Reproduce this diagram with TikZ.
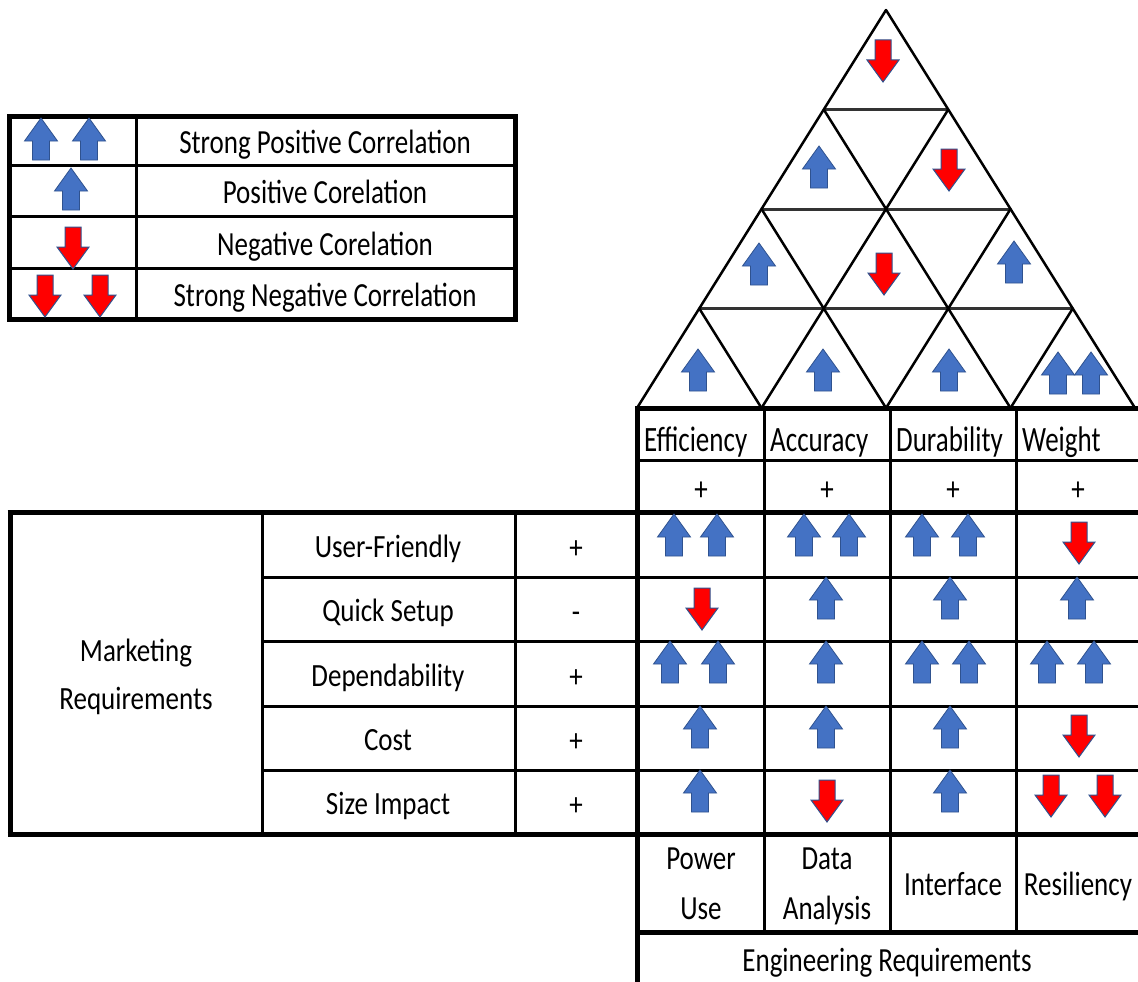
\documentclass[tikz,border=0pt]{standalone}
\usepackage{graphicx}
\usepackage{fontspec}
\setmainfont{Carlito}
\definecolor{arrblue}{HTML}{4472C4}
\definecolor{arredge}{HTML}{2F528F}
\definecolor{arrred}{HTML}{FF0000}
\newcommand\vsa[1]{\scalebox{1}[1.25]{#1}}
\newcommand\vsb[1]{\scalebox{1}[1.2]{#1}}
\newcommand\vsh[1]{\scalebox{1}[1.32]{#1}}
\tikzset{
  upar/.pic={\filldraw[fill=arrblue,draw=arredge,line width=0.8pt,line join=miter]
     (0,-21) -- (16.5,2) -- (8.5,2) -- (8.5,21) -- (-8.5,21) -- (-8.5,2) -- (-16.5,2) -- cycle;},
  dnar/.pic={\filldraw[fill=arrred,draw=arredge,line width=1pt,line join=miter]
     (0,21) -- (16,-1) -- (8,-1) -- (8,-21) -- (-8,-21) -- (-8,-1) -- (-16,-1) -- cycle;},
  txt/.style={font=\fontsize{27}{33}\selectfont, inner sep=0pt, anchor=base},
  hdr/.style={font=\fontsize{27}{33}\selectfont, inner sep=0pt, anchor=base west},
  thickln/.style={line width=5pt},
  thinln/.style={line width=3pt},
  roofln/.style={line width=2.5pt, line cap=round},
  roofh/.style={line width=3pt, black!80},
}
\begin{document}
\begin{tikzpicture}[x=1pt,y=-1pt]
\useasboundingbox (0,0) rectangle (1138,982);
\fill[white] (0,0) rectangle (1138,982);

% ---------------- Legend ----------------
\draw[thinln] (9,165) -- (515,165) (9,216) -- (515,216) (9,268) -- (515,268);
\draw[thinln] (136,116) -- (136,319);
\draw[thickln] (9,116) rectangle (515,319);
\node[txt] (lg1) at (325,153) {\vsa{Strong Positive Correlation}};
\node[txt] (lg2) at (325,203) {\vsa{Positive Corelation}};
\node[txt] (lg3) at (325,255) {\vsa{Negative Corelation}};
\node[txt] (lg4) at (325,306) {\vsa{Strong Negative Correlation}};
\pic at (41,139) {upar}; \pic at (89,139) {upar};
\pic at (71,189) {upar};
\pic at (73,248) {dnar};
\pic at (45,296) {dnar}; \pic at (100,296) {dnar};

% ---------------- Roof ----------------
\coordinate (A) at (886,10);
\coordinate (L1) at (823.75,109.5); \coordinate (R1) at (948.25,109.5);
\coordinate (L2) at (761.5,209);    \coordinate (R2) at (1010.5,209);
\coordinate (L3) at (699.25,308.5); \coordinate (R3) at (1072.75,308.5);
\coordinate (B0) at (637,408); \coordinate (B1) at (761.5,408);
\coordinate (B2) at (886,408); \coordinate (B3) at (1010.5,408);
\coordinate (B4) at (1135,408);
\draw[roofh] (L1) -- (R1) (L2) -- (R2) (L3) -- (R3);
\draw[roofln] (A) -- (B0) (R1) -- (B1) (R2) -- (B2) (R3) -- (B3);
\draw[roofln] (A) -- (B4) (L1) -- (B3) (L2) -- (B2) (L3) -- (B1);
\pic at (883,61) {dnar};
\pic at (819,167) {upar}; \pic at (949,170) {dnar};
\pic at (759,264) {upar}; \pic at (884,274) {dnar}; \pic at (1014,262) {upar};
\pic at (698,370) {upar}; \pic at (823,370) {upar}; \pic at (949,370) {upar};
\pic at (1058,373) {upar}; \pic at (1091,373) {upar};

% ---------------- Table lines ----------------
\draw[thinln] (637,460) -- (1138,460);
\foreach \yy in {577,641,706,770} \draw[thinln] (262,\yy) -- (1138,\yy);
\foreach \xx in {262,515} \draw[thinln] (\xx,512) -- (\xx,834);
\foreach \xx in {764,890,1016} \draw[thinln] (\xx,408) -- (\xx,932);
\draw[thickln] (637,408) -- (1138,408);
\draw[thickln] (637,405.5) -- (637,982);
\draw[thickln] (7.5,512) -- (1138,512);
\draw[thickln] (7.5,834) -- (1138,834);
\draw[thickln] (10,512) -- (10,834);
\draw[thickln] (637,932) -- (1138,932);

% ---------------- Table text ----------------
\node[hdr] (h1) at (644,451) {\vsh{Efficiency}};
\node[hdr] (h2) at (770,451) {\vsh{Accuracy}};
\node[hdr] (h3) at (896,451) {\vsh{Durability}};
\node[hdr] (h4) at (1022,451) {\vsh{Weight}};
\node[txt] (p1) at (701,500) {\vsa{+}};
\node[txt] (p2) at (827,500) {\vsa{+}};
\node[txt] (p3) at (953,500) {\vsa{+}};
\node[txt] (p4) at (1078,500) {\vsa{+}};

\node[txt] (mr1) at (136,661) {\vsb{Marketing}};
\node[txt] (mr2) at (136,709) {\vsb{Requirements}};
\node[txt] (r1) at (388,557) {\vsb{User-Friendly}};
\node[txt] (r2) at (388,621) {\vsb{Quick Setup}};
\node[txt] (r3) at (388,686) {\vsb{Dependability}};
\node[txt] (r4) at (388,750) {\vsb{Cost}};
\node[txt] (r5) at (388,814) {\vsb{Size Impact}};
\node[txt] (s1) at (576,558) {\vsb{+}};
\node[txt] (s2) at (576,622) {\vsb{-}};
\node[txt] (s3) at (576,687) {\vsb{+}};
\node[txt] (s4) at (576,751) {\vsb{+}};
\node[txt] (s5) at (576,815) {\vsb{+}};

\node[txt] (e1a) at (701,869) {\vsa{Power}};
\node[txt] (e1b) at (701,919) {\vsa{Use}};
\node[txt] (e2a) at (827,869) {\vsa{Data}};
\node[txt] (e2b) at (827,919) {\vsa{Analysis}};
\node[txt] (e3) at (953,895) {\vsa{Interface}};
\node[txt] (e4) at (1078,895) {\vsa{Resiliency}};
\node[txt] (er) at (887,971) {\vsa{Engineering Requirements}};

% ---------------- Matrix arrows ----------------
% User-Friendly
\pic at (674,535) {upar}; \pic at (717,535) {upar};
\pic at (804,535) {upar}; \pic at (849,535) {upar};
\pic at (922,535) {upar}; \pic at (968,535) {upar};
\pic at (1079,543) {dnar};
% Quick Setup
\pic at (702,609) {dnar};
\pic at (826,598) {upar}; \pic at (950,598) {upar}; \pic at (1077,598) {upar};
% Dependability
\pic at (670,662) {upar}; \pic at (718,662) {upar};
\pic at (826,662) {upar};
\pic at (922,662) {upar}; \pic at (969,662) {upar};
\pic at (1047,662) {upar}; \pic at (1094,662) {upar};
% Cost
\pic at (700,727) {upar}; \pic at (826,727) {upar}; \pic at (950,727) {upar};
\pic at (1079,736) {dnar};
% Size Impact
\pic at (700,791) {upar}; \pic at (827,801) {dnar}; \pic at (950,791) {upar};
\pic at (1051,796) {dnar}; \pic at (1105,796) {dnar};
\end{tikzpicture}
\end{document}
